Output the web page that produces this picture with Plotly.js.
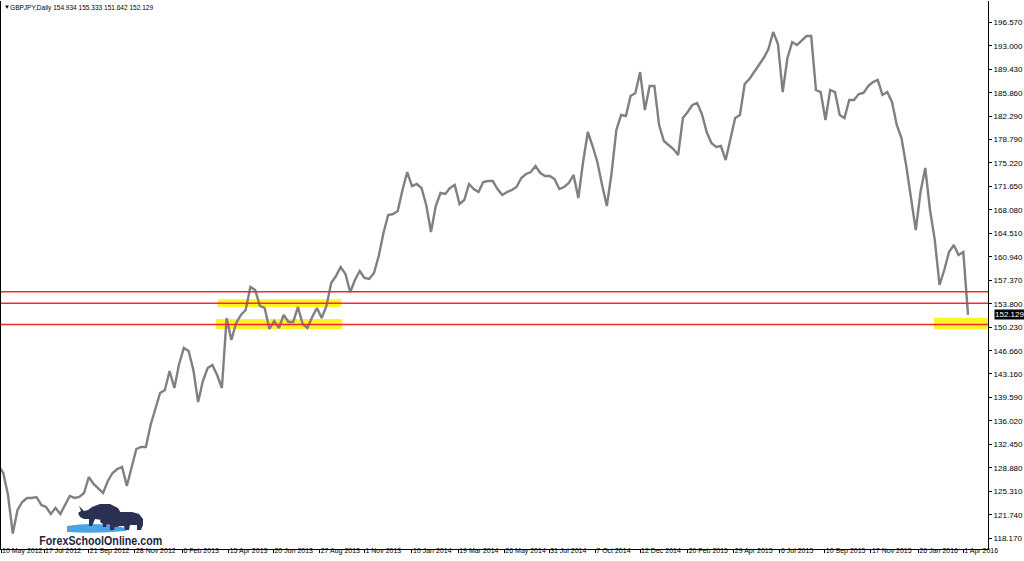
<!DOCTYPE html>
<html>
<head>
<meta charset="utf-8">
<script src="https://cdn.plot.ly/plotly-3.0.1.min.js"></script>
<style>
html,body{margin:0;padding:0;background:#ffffff;}
#chart{width:1024px;height:561px;}
</style>
</head>
<body>
<div id="chart"></div>
<script>
// ---- data (weekly closes) ----
const symbol = 'GBPJPY';
const timeframe = 'Daily';
const lastBar = [154.934, 155.333, 151.642, 152.129]; // O H L C

const dates = [
 '2012-05-11','2012-05-18','2012-05-25','2012-06-01','2012-06-08','2012-06-15','2012-06-22','2012-06-29','2012-07-06','2012-07-13',
 '2012-07-20','2012-07-27','2012-08-03','2012-08-10','2012-08-17','2012-08-24','2012-08-31','2012-09-07','2012-09-14','2012-09-21',
 '2012-09-28','2012-10-05','2012-10-12','2012-10-19','2012-10-26','2012-11-02','2012-11-09','2012-11-16','2012-11-23','2012-11-30',
 '2012-12-07','2012-12-14','2012-12-21','2012-12-28',
 '2013-01-04','2013-01-11','2013-01-18','2013-01-25','2013-02-01','2013-02-08','2013-02-15','2013-02-22','2013-03-01','2013-03-08',
 '2013-03-15','2013-03-22','2013-03-29','2013-04-05','2013-04-12','2013-04-19','2013-04-26','2013-05-03','2013-05-10','2013-05-17',
 '2013-05-24','2013-05-31','2013-06-07','2013-06-14','2013-06-21','2013-06-28','2013-07-05','2013-07-12','2013-07-19','2013-07-26',
 '2013-08-02','2013-08-09','2013-08-16','2013-08-23','2013-08-30','2013-09-06','2013-09-13','2013-09-20','2013-09-27','2013-10-04',
 '2013-10-11','2013-10-18','2013-10-25','2013-11-01','2013-11-08','2013-11-15','2013-11-22','2013-11-29','2013-12-06','2013-12-13',
 '2013-12-20','2013-12-27',
 '2014-01-03','2014-01-10','2014-01-17','2014-01-24','2014-01-31','2014-02-07','2014-02-14','2014-02-21','2014-02-28','2014-03-07',
 '2014-03-14','2014-03-21','2014-03-28','2014-04-04','2014-04-11','2014-04-18','2014-04-25','2014-05-02','2014-05-09','2014-05-16',
 '2014-05-23','2014-05-30','2014-06-06','2014-06-13','2014-06-20','2014-06-27','2014-07-04','2014-07-11','2014-07-18','2014-07-25',
 '2014-08-01','2014-08-08','2014-08-15','2014-08-22','2014-08-29','2014-09-05','2014-09-12','2014-09-19','2014-09-26','2014-10-03',
 '2014-10-10','2014-10-17','2014-10-24','2014-10-31','2014-11-07','2014-11-14','2014-11-21','2014-11-28','2014-12-05','2014-12-12',
 '2014-12-19','2014-12-26',
 '2015-01-02','2015-01-09','2015-01-16','2015-01-23','2015-01-30','2015-02-06','2015-02-13','2015-02-20','2015-02-27','2015-03-06',
 '2015-03-13','2015-03-20','2015-03-27','2015-04-03','2015-04-10','2015-04-17','2015-04-24','2015-05-01','2015-05-08','2015-05-15',
 '2015-05-22','2015-05-29','2015-06-05','2015-06-12','2015-06-19','2015-06-26','2015-07-03','2015-07-10','2015-07-17','2015-07-24',
 '2015-07-31','2015-08-07','2015-08-14','2015-08-21','2015-08-28','2015-09-04','2015-09-11','2015-09-18','2015-09-25','2015-10-02',
 '2015-10-09','2015-10-16','2015-10-23','2015-10-30','2015-11-06','2015-11-13','2015-11-20','2015-11-27','2015-12-04','2015-12-11',
 '2015-12-18','2015-12-25',
 '2016-01-01','2016-01-08','2016-01-15','2016-01-22','2016-01-29','2016-02-05','2016-02-12','2016-02-19','2016-02-26','2016-03-04',
 '2016-03-11','2016-03-18','2016-03-25','2016-04-01','2016-04-08'
];

const closes = [
 129.17,128.11,124.76,118.90,122.49,123.70,124.31,124.31,124.46,123.25,
 122.94,121.88,122.79,121.88,123.25,124.61,124.31,124.46,125.07,127.50,
 126.44,125.83,125.07,126.89,128.11,128.71,129.02,126.13,129.17,131.75,
 132.06,132.06,135.40,137.98,
 140.26,140.72,143.60,141.02,144.66,147.10,146.64,143.75,138.89,142.08,
 144.06,144.51,142.99,141.02,151.65,148.31,150.89,152.11,152.87,156.36,
 155.91,153.48,153.17,149.98,151.20,150.13,152.11,151.04,151.04,153.32,
 150.74,150.13,151.80,153.17,151.65,153.48,156.97,158.03,159.40,158.34,
 155.60,157.43,158.79,157.73,157.58,158.49,161.07,164.57,167.30,167.45,
 167.91,171.10,
 173.83,171.70,172.01,171.40,168.82,164.72,168.67,170.64,170.49,171.40,
 171.86,168.97,169.58,172.01,171.25,170.79,172.31,172.46,172.46,171.25,
 170.34,170.79,171.10,171.55,172.92,173.53,173.83,174.74,173.68,173.22,
 173.22,172.77,171.25,171.55,172.16,173.38,169.88,175.35,179.91,177.78,
 175.35,171.86,168.67,173.68,180.21,182.49,182.34,185.38,185.83,189.02,
 183.25,186.90,
 186.90,180.97,178.54,177.93,177.33,176.41,182.03,182.95,184.01,184.31,
 182.64,179.91,178.24,177.63,177.78,175.65,178.69,182.03,182.49,187.20,
 187.96,189.02,190.24,191.15,192.52,195.10,193.28,185.98,191.15,193.58,
 193.12,193.88,194.49,194.49,186.29,185.98,181.73,186.29,185.98,182.49,
 182.03,184.77,184.77,185.68,185.83,186.90,187.50,187.81,185.53,185.98,
 184.47,180.97,
 179.00,174.74,169.58,165.02,170.79,174.44,168.06,163.50,156.67,158.94,
 161.68,162.74,161.22,161.68,152.129
];

// price-scale labels as shown on the right axis
const priceTicks = [196.570,193.000,189.430,185.860,182.290,178.790,175.220,171.650,168.080,164.510,
  160.940,157.370,153.800,150.230,146.660,143.160,139.590,136.020,132.450,128.880,125.310,121.740,118.170];

// time-scale labels
const timeTickDates = ['2012-05-14 16:00','2012-07-17','2012-09-21','2012-11-28','2013-02-06','2013-04-15','2013-06-20',
  '2013-08-27','2013-11-01','2014-01-10','2014-03-19','2014-05-26','2014-07-31','2014-10-07','2014-12-12',
  '2015-02-20','2015-04-29','2015-07-06','2015-09-10','2015-11-17','2016-01-26','2016-04-01'];
const timeTickText = ['10 May 2012','17 Jul 2012','21 Sep 2012','28 Nov 2012','6 Feb 2013','15 Apr 2013','20 Jun 2013',
  '27 Aug 2013','1 Nov 2013','10 Jan 2014','19 Mar 2014','26 May 2014','31 Jul 2014','7 Oct 2014','12 Dec 2014',
  '20 Feb 2015','29 Apr 2015','6 Jul 2015','10 Sep 2015','17 Nov 2015','26 Jan 2016','1 Apr 2016'];

// horizontal levels and highlighted zones drawn on the chart
const levels = [155.65, 153.90, 150.66];
const zoneStart = ['2013-03-29 19:00','2013-03-27 07:00','2016-02-17 22:00'];
const zoneEnd   = ['2013-09-27 10:00','2013-09-29 10:00','2016-05-07 09:36'];
const zoneLow   = [153.34, 149.98, 149.93];
const zoneHigh  = [154.49, 151.50, 151.70];

// ---- chart ----
const font = '"Liberation Sans", Arial, sans-serif';
const xRange = ['2012-05-14 16:00', '2016-05-07 09:36'];

const shapes = [];
for (let i = 0; i < zoneStart.length; i++) {
  shapes.push({
    type: 'rect', layer: 'below', xref: 'x', yref: 'y',
    x0: zoneStart[i], x1: zoneEnd[i], y0: zoneLow[i], y1: zoneHigh[i],
    fillcolor: '#fff22a', line: {width: 0}
  });
}
levels.forEach(v => shapes.push({
  type: 'line', layer: 'above', xref: 'paper', yref: 'y',
  x0: 0, x1: 1, y0: v, y1: v,
  line: {color: '#f22a2a', width: 1.4}
}));

// logo silhouettes (pixel offsets from the lower-left plot corner)
function px(points) {
  return 'M' + points.map(p => p[0] + ',' + p[1]).join(' L') + ' Z';
}
const logoBase = {type: 'path', xref: 'paper', yref: 'paper', xsizemode: 'pixel', ysizemode: 'pixel',
  xanchor: 0, yanchor: 0, layer: 'above', line: {width: 0}};
shapes.push(Object.assign({}, logoBase, {
  path: 'M66,23 Q95,28 125,21 L125,18 Q95,15 66,17 Z', fillcolor: '#4aa3e2'
}));
shapes.push(Object.assign({}, logoBase, {
  path: px([[78,43],[83,38],[87,39],[91,42],[99,45],[109,45],[117,41],[120,36],[119,29],[117,22],[114,22],[113,29],
            [107,28],[105,22],[102,22],[101,29],[94,30],[91,23],[88,23],[88,30],[83,30],[79,32],[77,36],[80,38]]),
  fillcolor: '#2b3153'
}));
shapes.push(Object.assign({}, logoBase, {
  path: px([[99,28],[101,32],[105,34],[111,36],[121,37],[131,37],[138,35],[142,30],[142,24],[140,19],[136,19],[136,24],
            [129,24],[128,19],[124,19],[123,23],[114,23],[113,19],[109,19],[109,24],[104,25],[100,26]]),
  fillcolor: '#2b3153'
}));

const headerText = symbol + ',' + timeframe + ' ' + lastBar.map(v => v.toFixed(3)).join(' ');
const logoText = 'ForexSchoolOnline.com';

const annotations = [
  {xref: 'paper', yref: 'paper', x: 0, y: 1, xanchor: 'left', yanchor: 'middle', xshift: 1, yshift: -6,
   text: '▼', showarrow: false, font: {family: font, size: 6, color: '#000'}},
  {xref: 'paper', yref: 'paper', x: 0, y: 1, xanchor: 'center', yanchor: 'middle', xshift: 80.5, yshift: -6,
   text: headerText, showarrow: false, font: {family: font, size: 8, color: '#000'}},
  {xref: 'paper', yref: 'y', x: 1, y: lastBar[3], xanchor: 'left', yanchor: 'middle', xshift: 6,
   text: lastBar[3].toFixed(3), showarrow: false, bgcolor: '#000000', borderpad: 0,
   font: {family: font, size: 8, color: '#ffffff'}},
  {xref: 'paper', yref: 'paper', x: 0, y: 0, xanchor: 'center', yanchor: 'middle', xshift: 99.5, yshift: 9,
   text: logoText, showarrow: false,
   font: {family: font, size: 13, weight: 'bold', color: '#1e2541'}}
];

const trace = {
  x: dates, y: closes, type: 'scatter', mode: 'lines',
  line: {color: '#808080', width: 2.4}, hoverinfo: 'skip'
};

const layout = {
  width: 1024, height: 561,
  margin: {l: 1, r: 36, t: 1, b: 12, pad: 0},
  paper_bgcolor: '#ffffff', plot_bgcolor: '#ffffff',
  showlegend: false,
  xaxis: {
    type: 'date', range: xRange,
    showgrid: false, zeroline: false,
    showline: true, linecolor: '#000000', linewidth: 1,
    ticks: 'outside', ticklen: 3, tickcolor: '#000000', tickwidth: 1,
    tickmode: 'array', tickvals: timeTickDates, ticktext: timeTickText,
    tickangle: 0, ticklabelposition: 'outside right', ticklabelstandoff: -5,
    tickfont: {family: font, size: 7, color: '#000000'}
  },
  yaxis: {
    side: 'right', range: [116.56, 199.81],
    showgrid: false, zeroline: false,
    showline: true, mirror: true, linecolor: '#000000', linewidth: 1,
    ticks: 'outside', ticklen: 3, tickcolor: '#000000', tickwidth: 1,
    tickmode: 'array', tickvals: priceTicks, ticktext: priceTicks.map(v => v.toFixed(3)),
    tickfont: {family: font, size: 8, color: '#000000'}
  },
  shapes: shapes,
  annotations: annotations
};

Plotly.newPlot('chart', [trace], layout, {staticPlot: true, displayModeBar: false}).then(function () {
  // condense the header and logo text to the widths they occupy in the reference
  document.querySelectorAll('.annotation-text').forEach(function (t) {
    if (t.textContent === logoText) {
      t.setAttribute('textLength', '123'); t.setAttribute('lengthAdjust', 'spacingAndGlyphs');
    } else if (t.textContent === headerText) {
      t.setAttribute('textLength', '143'); t.setAttribute('lengthAdjust', 'spacingAndGlyphs');
    }
  });
});
</script>
</body>
</html>
